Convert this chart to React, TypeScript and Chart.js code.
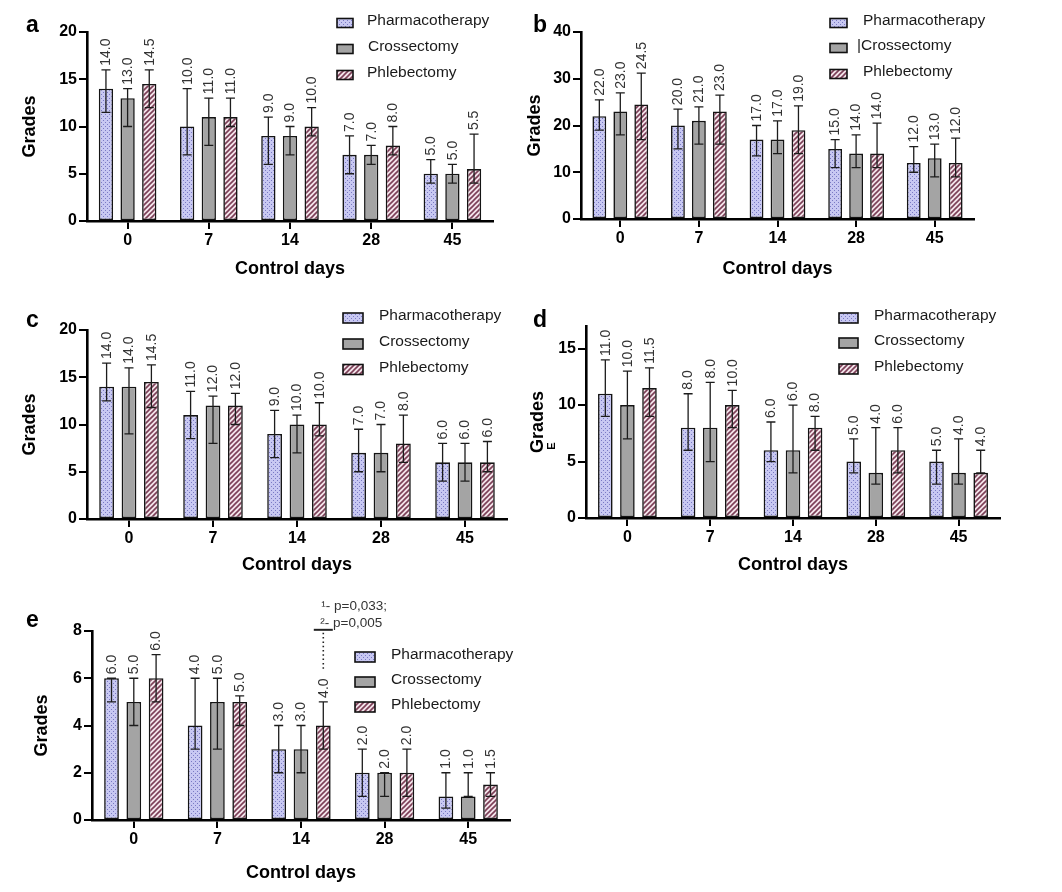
import React, { useEffect, useRef } from 'react';
import { Chart, registerables } from 'chart.js';

Chart.register(...registerables);

// ---------- DATA ----------
const categories = ['0', '7', '14', '28', '45'];
const seriesNames = ['Pharmacotherapy', 'Crossectomy', 'Phlebectomy'];
const seriesNamesB = ['Pharmacotherapy', '|Crossectomy', 'Phlebectomy'];
const xTitle = 'Control days';
const yTitle = 'Grades';

// Panel a
const aPharma = [14, 10, 9, 7, 5];
const aPharmaHi = [16, 14, 11, 9, 6.5];
const aPharmaLo = [11.5, 7, 6, 5, 4];
const aCross = [13, 11, 9, 7, 5];
const aCrossHi = [14, 13, 10, 8, 6];
const aCrossLo = [10, 8, 7, 6, 4];
const aPhleb = [14.5, 11, 10, 8, 5.5];
const aPhlebHi = [16, 13, 12, 10, 9.2];
const aPhlebLo = [12, 10, 9, 7, 4];
const aYMax = 20;
const aYStep = 5;

// Panel b
const bPharma = [22, 20, 17, 15, 12];
const bPharmaHi = [25.5, 23.5, 20, 17, 15.5];
const bPharmaLo = [19, 15, 13.5, 11, 10];
const bCross = [23, 21, 17, 14, 13];
const bCrossHi = [27, 24, 21, 18, 16];
const bCrossLo = [18, 16, 14, 11, 9];
const bPhleb = [24.5, 23, 19, 14, 12];
const bPhlebHi = [31.2, 26.5, 24.2, 20.5, 17.3];
const bPhlebLo = [17, 16, 14, 11, 9];
const bYMax = 40;
const bYStep = 10;

// Panel c
const cPharma = [14, 11, 9, 7, 6];
const cPharmaHi = [16.5, 13.5, 11.5, 9.5, 8];
const cPharmaLo = [12.5, 8.5, 6.5, 5, 4];
const cCross = [14, 12, 10, 7, 6];
const cCrossHi = [16, 13, 11, 10, 8];
const cCrossLo = [9, 8, 7, 5, 4];
const cPhleb = [14.5, 12, 10, 8, 6];
const cPhlebHi = [16.3, 13.3, 12.3, 11, 8.2];
const cPhlebLo = [11.8, 10, 8.8, 6, 5];
const cYMax = 20;
const cYStep = 5;

// Panel d
const dPharma = [11, 8, 6, 5, 5];
const dPharmaHi = [14, 11, 8.5, 7, 6];
const dPharmaLo = [9, 6, 5, 4, 3];
const dCross = [10, 8, 6, 4, 4];
const dCrossHi = [13, 12, 10, 8, 7];
const dCrossLo = [7, 5, 4, 3, 3];
const dPhleb = [11.5, 10, 8, 6, 4];
const dPhlebHi = [13.3, 11.3, 9, 8, 6];
const dPhlebLo = [9, 8, 6, 4, 4];
const dYMax = 17;
const dYStep = 5;

// Panel e
const ePharma = [6, 4, 3, 2, 1];
const ePharmaHi = [6, 6, 4, 3, 2];
const ePharmaLo = [5, 3, 2, 1, 0.5];
const eCross = [5, 5, 3, 2, 1];
const eCrossHi = [6, 6, 4, 2, 2];
const eCrossLo = [4, 3, 2, 1, 1];
const ePhleb = [6, 5, 4, 2, 1.5];
const ePhlebHi = [7, 5.25, 5, 3, 2];
const ePhlebLo = [5, 4, 3, 1, 1];
const eYMax = 8;
const eYStep = 2;

// Panel e significance annotation
const eAnnotCategory = 2; // "14"
const eAnnotSeries = 2; // Phlebectomy
const eAnnotTop = 8.05;
const eAnnotBottom = 6.3;
const eAnnotLines = ['¹- p=0,033;', '²- p=0,005'];

// ---------- STYLE / LAYOUT ----------
const FONT = '"Liberation Sans", Arial, Helvetica, sans-serif';

type Box = { left: number; top: number; width: number; height: number };
type LegendCfg = { boxX: number; boxW: number; boxH: number; textX: number[]; rows: number[] };
type PanelCfg = {
  key: string;
  letter: string;
  letterX: number;
  letterBase: number;
  values: number[][];
  hi: number[][];
  lo: number[][];
  yMax: number;
  yStep: number;
  labels: string[];
  box: Box;
  yWidth: number;
  xHeight: number;
  padTop: number;
  padRight: number;
  legend: LegendCfg;
  annot?: boolean;
};

const panels: PanelCfg[] = [
  {
    key: 'a', letter: 'a', letterX: 26, letterBase: 32,
    values: [aPharma, aCross, aPhleb], hi: [aPharmaHi, aCrossHi, aPhlebHi], lo: [aPharmaLo, aCrossLo, aPhlebLo],
    yMax: aYMax, yStep: aYStep, labels: seriesNames,
    box: { left: 19, top: 0, width: 501, height: 280 }, yWidth: 68, xHeight: 59, padTop: 32, padRight: 27,
    legend: { boxX: 337, boxW: 16, boxH: 9, textX: [367, 368, 367], rows: [23, 49, 75] },
  },
  {
    key: 'b', letter: 'b', letterX: 533, letterBase: 32,
    values: [bPharma, bCross, bPhleb], hi: [bPharmaHi, bCrossHi, bPhlebHi], lo: [bPharmaLo, bCrossLo, bPhlebLo],
    yMax: bYMax, yStep: bYStep, labels: seriesNamesB,
    box: { left: 524, top: 0, width: 476, height: 280 }, yWidth: 57, xHeight: 61, padTop: 32, padRight: 26,
    legend: { boxX: 830, boxW: 17, boxH: 9, textX: [863, 857, 863], rows: [23, 48, 74] },
  },
  {
    key: 'c', letter: 'c', letterX: 26, letterBase: 327,
    values: [cPharma, cCross, cPhleb], hi: [cPharmaHi, cCrossHi, cPhlebHi], lo: [cPharmaLo, cCrossLo, cPhlebLo],
    yMax: cYMax, yStep: cYStep, labels: seriesNames,
    box: { left: 19, top: 290, width: 511, height: 286 }, yWidth: 68, xHeight: 57, padTop: 40, padRight: 23,
    legend: { boxX: 343, boxW: 20, boxH: 10, textX: [379, 379, 379], rows: [318, 344, 369.5] },
  },
  {
    key: 'd', letter: 'd', letterX: 533, letterBase: 327,
    values: [dPharma, dCross, dPhleb], hi: [dPharmaHi, dCrossHi, dPhlebHi], lo: [dPharmaLo, dCrossLo, dPhlebLo],
    yMax: dYMax, yStep: dYStep, labels: seriesNames,
    box: { left: 527, top: 290, width: 513, height: 286 }, yWidth: 59, xHeight: 58, padTop: 36, padRight: 40,
    legend: { boxX: 839, boxW: 19, boxH: 10, textX: [874, 874, 874], rows: [318, 343, 369] },
  },
  {
    key: 'e', letter: 'e', letterX: 26, letterBase: 627,
    values: [ePharma, eCross, ePhleb], hi: [ePharmaHi, eCrossHi, ePhlebHi], lo: [ePharmaLo, eCrossLo, ePhlebLo],
    yMax: eYMax, yStep: eYStep, labels: seriesNames,
    box: { left: 31, top: 585, width: 509, height: 299 }, yWidth: 61, xHeight: 64, padTop: 46, padRight: 30,
    legend: { boxX: 355, boxW: 20, boxH: 10, textX: [391, 391, 391], rows: [657, 682, 707] },
    annot: true,
  },
];

function makeDotPattern(ctx: CanvasRenderingContext2D): CanvasPattern {
  const c = document.createElement('canvas');
  c.width = 4; c.height = 4;
  const g = c.getContext('2d')!;
  g.fillStyle = '#c8c8f2';
  g.fillRect(0, 0, 4, 4);
  g.fillStyle = '#7a7ac4';
  g.fillRect(0, 0, 1, 1);
  g.fillRect(2, 2, 1, 1);
  return ctx.createPattern(c, 'repeat')!;
}

function makeHatchPattern(ctx: CanvasRenderingContext2D): CanvasPattern {
  const s = 5;
  const c = document.createElement('canvas');
  c.width = s; c.height = s;
  const g = c.getContext('2d')!;
  g.fillStyle = '#f3e4ea';
  g.fillRect(0, 0, s, s);
  g.strokeStyle = '#7c3f57';
  g.lineWidth = 1.6;
  g.beginPath();
  g.moveTo(0, s); g.lineTo(s, 0);
  g.moveTo(-1, 1); g.lineTo(1, -1);
  g.moveTo(s - 1, s + 1); g.lineTo(s + 1, s - 1);
  g.stroke();
  return ctx.createPattern(c, 'repeat')!;
}

function makePlugin(p: PanelCfg, fills: (string | CanvasPattern)[]) {
  const offX = p.box.left;
  const offY = p.box.top;
  return {
    id: 'extras_' + p.key,
    afterDatasetsDraw(chart: any) {
      const ctx: CanvasRenderingContext2D = chart.ctx;
      const ys = chart.scales.y;
      ctx.save();
      for (let i = 0; i < 3; i++) {
        const meta = chart.getDatasetMeta(i);
        meta.data.forEach((el: any, j: number) => {
          const x = el.x;
          const yh = ys.getPixelForValue(p.hi[i][j]);
          const yl = ys.getPixelForValue(p.lo[i][j]);
          ctx.strokeStyle = '#1c1c1c';
          ctx.lineWidth = 1.3;
          ctx.setLineDash([]);
          ctx.beginPath();
          ctx.moveTo(x, yh); ctx.lineTo(x, yl);
          ctx.moveTo(x - 4.5, yh); ctx.lineTo(x + 4.5, yh);
          ctx.moveTo(x - 4.5, yl); ctx.lineTo(x + 4.5, yl);
          ctx.stroke();
          const top = Math.min(yh, el.y) - 4;
          ctx.save();
          ctx.translate(x, top);
          ctx.rotate(-Math.PI / 2);
          ctx.fillStyle = '#333';
          ctx.font = `14px ${FONT}`;
          ctx.textAlign = 'left';
          ctx.textBaseline = 'middle';
          ctx.fillText(p.values[i][j].toFixed(1), 0, 0.5);
          ctx.restore();
        });
      }
      ctx.restore();
    },
    afterDraw(chart: any) {
      const ctx: CanvasRenderingContext2D = chart.ctx;
      ctx.save();
      // legend
      const L = p.legend;
      for (let i = 0; i < 3; i++) {
        const cy = L.rows[i] - offY;
        const bx = L.boxX - offX;
        ctx.fillStyle = fills[i] as any;
        ctx.fillRect(bx, cy - L.boxH / 2, L.boxW, L.boxH);
        ctx.strokeStyle = '#111';
        ctx.lineWidth = 1.6;
        ctx.strokeRect(bx, cy - L.boxH / 2, L.boxW, L.boxH);
        ctx.fillStyle = '#1a1a1a';
        ctx.font = `15.5px ${FONT}`;
        ctx.textAlign = 'left';
        ctx.textBaseline = 'middle';
        ctx.fillText(p.labels[i], L.textX[i] - offX, cy - 2);
      }
      // significance annotation
      if (p.annot) {
        const ys = chart.scales.y;
        const el = chart.getDatasetMeta(eAnnotSeries).data[eAnnotCategory];
        const x = el.x;
        const yTop = ys.getPixelForValue(eAnnotTop);
        const yBot = ys.getPixelForValue(eAnnotBottom);
        ctx.strokeStyle = '#222';
        ctx.lineWidth = 1.6;
        ctx.setLineDash([1.5, 2.8]);
        ctx.beginPath();
        ctx.moveTo(x, yTop + 3); ctx.lineTo(x, yBot);
        ctx.stroke();
        ctx.setLineDash([]);
        ctx.lineWidth = 2;
        ctx.beginPath();
        ctx.moveTo(x - 9.5, yTop); ctx.lineTo(x + 9.5, yTop);
        ctx.stroke();
        ctx.fillStyle = '#333';
        ctx.font = `13.5px ${FONT}`;
        ctx.textAlign = 'left';
        ctx.textBaseline = 'middle';
        ctx.fillText(eAnnotLines[0], x - 2, yTop - 24);
        ctx.fillText(eAnnotLines[1], x - 3, yTop - 7);
      }
      ctx.restore();
    },
  };
}

function PanelChart({ p }: { p: PanelCfg }) {
  const ref = useRef<HTMLCanvasElement | null>(null);
  useEffect(() => {
    const canvas = ref.current!;
    const ctx = canvas.getContext('2d')!;
    const fills: (string | CanvasPattern)[] = [makeDotPattern(ctx), '#a4a4a4', makeHatchPattern(ctx)];
    const chart = new Chart(canvas, {
      type: 'bar',
      data: {
        labels: categories,
        datasets: p.values.map((v, i) => ({
          label: p.labels[i],
          data: v,
          backgroundColor: fills[i] as any,
          borderColor: '#141414',
          borderWidth: 1.6,
          borderSkipped: false,
          categoryPercentage: 0.8,
          barPercentage: 0.66,
        })),
      },
      options: {
        animation: false,
        responsive: false,
        maintainAspectRatio: false,
        layout: { padding: { top: p.padTop, right: p.padRight, left: 0, bottom: 0 } },
        plugins: {
          legend: { display: false },
          tooltip: { enabled: false },
          title: { display: false },
        },
        scales: {
          x: {
            type: 'category',
            offset: true,
            z: 1,
            grid: { display: true, drawOnChartArea: false, drawTicks: true, tickLength: 8, offset: false, color: '#000', lineWidth: 2 },
            border: { display: true, color: '#000', width: 2.6 },
            ticks: { color: '#000', font: { family: FONT, size: 16, weight: 'bold' }, padding: 2, maxRotation: 0 },
            title: { display: true, text: xTitle, color: '#000', font: { family: FONT, size: 18, weight: 'bold' }, padding: 0 },
            afterFit: (s: any) => { s.height = p.xHeight; },
          },
          y: {
            min: 0,
            max: p.yMax,
            z: 1,
            grid: { display: true, drawOnChartArea: false, drawTicks: true, tickLength: 8, color: '#000', lineWidth: 2 },
            border: { display: true, color: '#000', width: 2.6 },
            ticks: { stepSize: p.yStep, includeBounds: false, color: '#000', font: { family: FONT, size: 16, weight: 'bold' }, padding: 2 },
            title: { display: true, text: yTitle, color: '#000', font: { family: FONT, size: 18, weight: 'bold' }, padding: 0 },
            afterFit: (s: any) => { s.width = p.yWidth; },
          },
        },
      } as any,
      plugins: [makePlugin(p, fills) as any],
    });
    return () => chart.destroy();
  }, [p]);
  return (
    <canvas
      ref={ref}
      width={p.box.width}
      height={p.box.height}
      style={{ position: 'absolute', left: p.box.left, top: p.box.top, width: p.box.width, height: p.box.height }}
    />
  );
}

export default function App() {
  const letterSize = 23;
  return (
    <div style={{ position: 'absolute', left: 0, top: 0, width: 1062, height: 892, background: '#fff', overflow: 'hidden' }}>
      {panels.map((p) => (
        <PanelChart key={p.key} p={p} />
      ))}
      {panels.map((p) => (
        <div
          key={'l' + p.key}
          style={{
            position: 'absolute',
            left: p.letterX,
            top: p.letterBase - letterSize * 0.8465,
            fontFamily: FONT,
            fontWeight: 'bold',
            fontSize: letterSize,
            lineHeight: 1,
            color: '#000',
          }}
        >
          {p.letter}
        </div>
      ))}
      <div
        style={{
          position: 'absolute',
          left: 551,
          top: 446,
          transform: 'translate(-50%, -50%) rotate(-90deg)',
          fontFamily: FONT,
          fontWeight: 'bold',
          fontSize: 11,
          lineHeight: 1,
          color: '#000',
        }}
      >
        E
      </div>
    </div>
  );
}
